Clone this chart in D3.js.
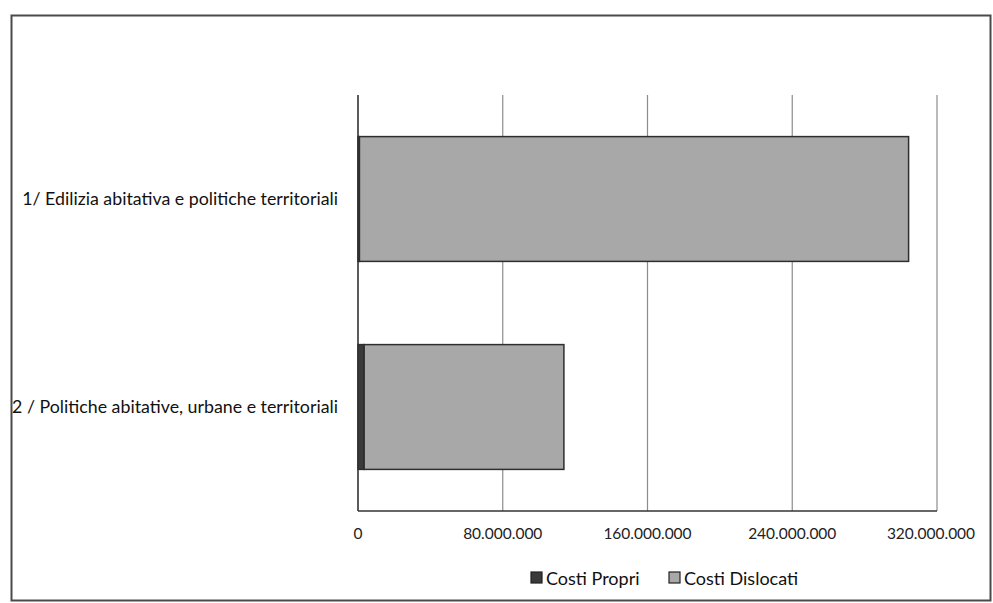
<!DOCTYPE html>
<html lang="it">
<head>
  <meta charset="UTF-8">
  <title>Costi per programma</title>
  <script src="https://d3js.org/d3.v7.min.js"></script>
  <style>
    body { margin: 0; background: #fff; overflow: hidden; }
    svg { display: block; font-family: Lato, "Open Sans", sans-serif; }
  </style>
</head>
<body>
  <svg id="chart" width="993" height="603"></svg>
  <script>
    // data
    const categories = [
      "1/ Edilizia abitativa e politiche territoriali",
      "2 / Politiche abitative, urbane e territoriali"
    ];
    const costiPropri = [800000, 3400000];
    const costiDislocati = [303500000, 110400000];
    const tickValues = [0, 80000000, 160000000, 240000000, 320000000];
    const seriesNames = ["Costi Propri", "Costi Dislocati"];
    const colors = ["#3a3a3a", "#a8a8a8"];

    const svg = d3.select("#chart");
    const plot = { left: 358, right: 937, top: 95, bottom: 511 };

    // outer frame
    svg.append("rect")
      .attr("x", 11.5).attr("y", 15.5)
      .attr("width", 979).attr("height", 585)
      .attr("fill", "none")
      .attr("stroke", "#4a4a4a")
      .attr("stroke-width", 2);

    const x = d3.scaleLinear()
      .domain([0, 320000000])
      .range([plot.left, plot.right]);

    const y = d3.scaleBand()
      .domain(categories)
      .range([plot.top, plot.bottom])
      .paddingInner(0.4)
      .paddingOuter(0.2);

    // vertical gridlines
    svg.append("g")
      .selectAll("line")
      .data(tickValues.slice(1))
      .join("line")
      .attr("x1", d => x(d)).attr("x2", d => x(d))
      .attr("y1", plot.top).attr("y2", plot.bottom)
      .attr("stroke", "#8c8c8c")
      .attr("stroke-width", 1.2);

    // stacked bars
    const rows = categories.map((c, i) => ({ cat: c, values: [costiPropri[i], costiDislocati[i]] }));
    const g = svg.append("g");
    rows.forEach(r => {
      let acc = 0;
      r.values.forEach((v, j) => {
        g.append("rect")
          .attr("x", x(acc))
          .attr("y", y(r.cat))
          .attr("width", x(acc + v) - x(acc))
          .attr("height", y.bandwidth())
          .attr("fill", colors[j])
          .attr("stroke", "#2e2e2e")
          .attr("stroke-width", 1.5);
        acc += v;
      });
    });

    // axis lines
    svg.append("line")
      .attr("x1", plot.left).attr("x2", plot.left)
      .attr("y1", plot.top).attr("y2", plot.bottom)
      .attr("stroke", "#333").attr("stroke-width", 1.6);
    svg.append("line")
      .attr("x1", plot.left).attr("x2", plot.right)
      .attr("y1", plot.bottom).attr("y2", plot.bottom)
      .attr("stroke", "#333").attr("stroke-width", 1.6);

    // x tick labels
    const fmt = d => d3.format(",")(d).replace(/,/g, ".");
    svg.append("g")
      .selectAll("text")
      .data(tickValues)
      .join("text")
      .attr("x", (d, i) => x(d) - (i === tickValues.length - 1 ? 6 : 0))
      .attr("y", 539)
      .attr("text-anchor", "middle")
      .attr("font-size", 15.5)
      .attr("fill", "#222")
      .text(fmt);

    // category labels
    svg.append("g")
      .selectAll("text")
      .data(categories)
      .join("text")
      .attr("x", 338)
      .attr("y", d => y(d) + y.bandwidth() / 2 + 6)
      .attr("text-anchor", "end")
      .attr("font-size", 17.8)
      .attr("fill", "#111")
      .text(d => d);

    // legend
    const legendX = [531, 669];
    const legend = svg.append("g");
    seriesNames.forEach((n, i) => {
      legend.append("rect")
        .attr("x", legendX[i]).attr("y", 572)
        .attr("width", 11).attr("height", 11)
        .attr("fill", colors[i])
        .attr("stroke", "#222").attr("stroke-width", 1.2);
      legend.append("text")
        .attr("x", legendX[i] + 15).attr("y", 585)
        .attr("font-size", 18)
        .attr("fill", "#111")
        .text(n);
    });
  </script>
</body>
</html>
